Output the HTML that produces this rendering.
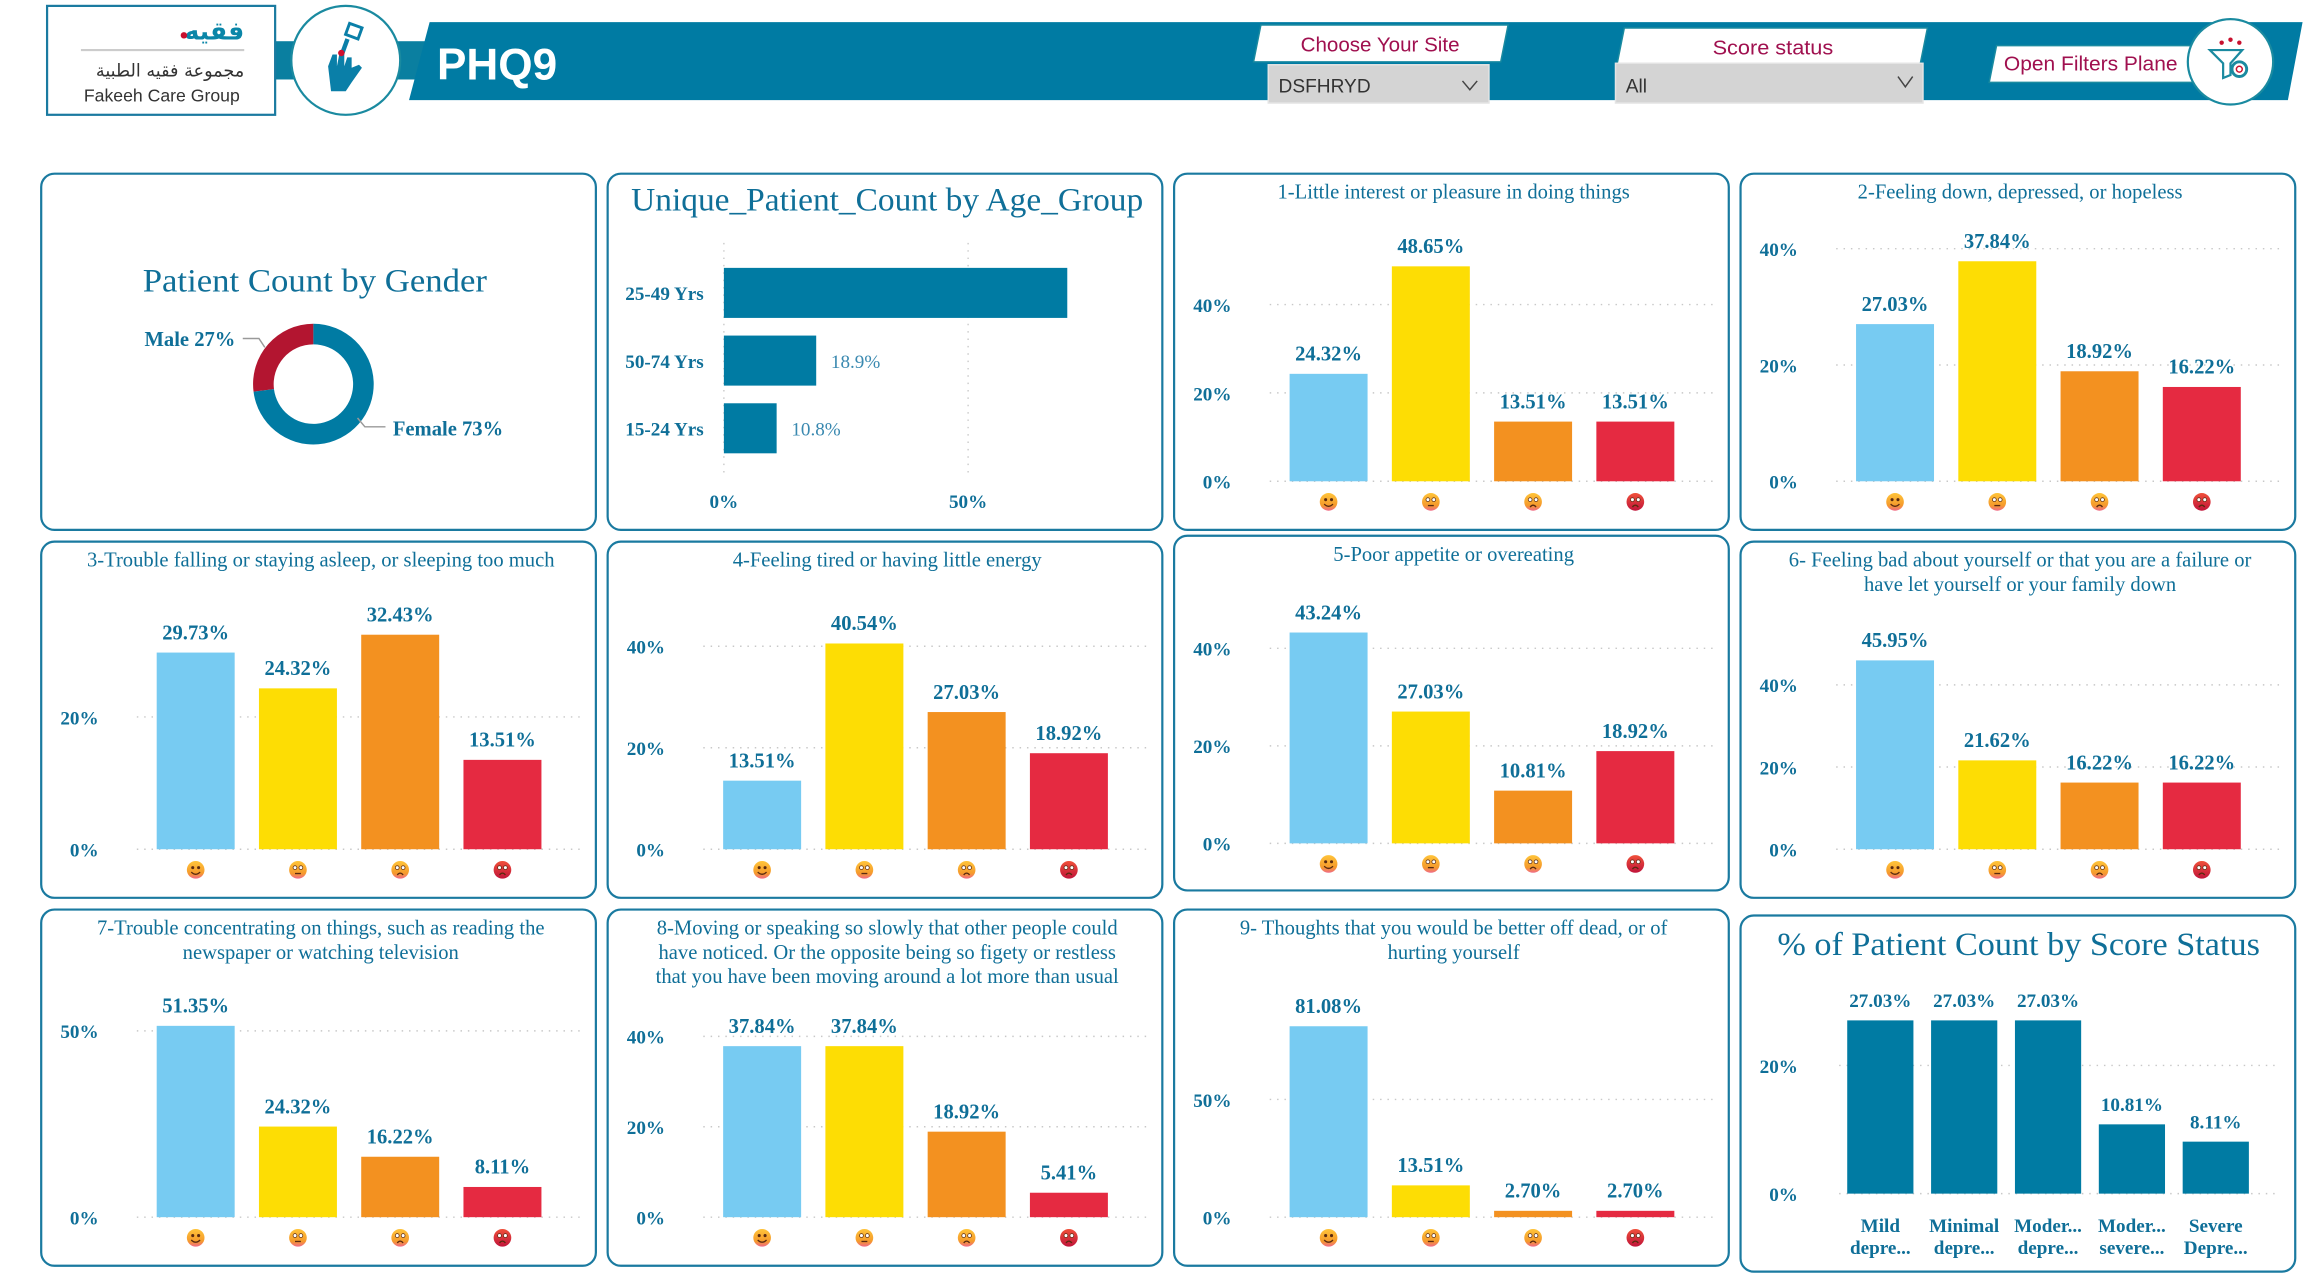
<!DOCTYPE html>
<html><head><meta charset="utf-8">
<style>
html,body{margin:0;padding:0;background:#fff;overflow:hidden}
svg{display:block}
text{font-family:"Liberation Serif",serif}
.sans{font-family:"Liberation Sans",sans-serif}
</style></head>
<body>
<svg id="root" width="2307" height="1279" viewBox="0 0 1568 869" preserveAspectRatio="none" xmlns="http://www.w3.org/2000/svg">
<defs>
<linearGradient id="eg" x1="0" y1="0" x2="0" y2="1"><stop offset="0" stop-color="#ffc43a"/><stop offset="0.7" stop-color="#f59a2c"/><stop offset="1" stop-color="#f06a8a"/></linearGradient>
<linearGradient id="er" x1="0" y1="0" x2="0" y2="1"><stop offset="0" stop-color="#f0503a"/><stop offset="1" stop-color="#c0143a"/></linearGradient>
</defs>
<g>
<rect x="185" y="28" width="110" height="26" fill="#0a7fa0"/>
<polygon points="292,15 1565,15 1555,68 278,68" fill="#007ba3"/>
<rect x="32" y="4" width="155" height="74" fill="#fff" stroke="#1a7aa0" stroke-width="1.5"/>
<text x="166" y="27" text-anchor="end" font-size="17" font-weight="bold" fill="#0a86a8" style="font-family:'DejaVu Sans',sans-serif">فقيه</text>
<circle cx="125" cy="24" r="2.2" fill="#c8102e"/>
<line x1="55" y1="34" x2="166" y2="34" stroke="#ccc" stroke-width="1.5"/>
<text x="166" y="52" text-anchor="end" font-size="12" fill="#333" style="font-family:'DejaVu Sans',sans-serif">مجموعة فقيه الطبية</text>
<text class="sans" x="110" y="69" text-anchor="middle" font-size="12" fill="#333">Fakeeh Care Group</text>
<circle cx="235" cy="41" r="37" fill="#fff" stroke="#1a8aa0" stroke-width="1.5"/>
<g fill="#0a7fa8">
<path d="M223,45 l3,-8 l3,0 l0,8 l2,-10 l3,0 l0,10 l2,-6 l3,0 l0,7 l5,-2 l2,2 l-7,10 l-4,6 l-10,0 z"/>
<rect x="233" y="26" width="3" height="11" transform="rotate(20 234 31)"/>
<rect x="236" y="17" width="9" height="8" transform="rotate(20 240 21)" fill="none" stroke="#0a7fa8" stroke-width="2"/>
<circle cx="232" cy="36" r="2.2" fill="#d0102e"/>
</g>
<text class="sans" x="297" y="54" font-size="30" font-weight="bold" fill="#fff">PHQ9</text>
<polygon points="857,17 1025,17 1020,42 852,42" fill="#fff" stroke="#1a8aa0" stroke-width="1"/>
<text class="sans" x="938" y="35" text-anchor="middle" font-size="14" fill="#a0104f" textLength="108" lengthAdjust="spacingAndGlyphs">Choose Your Site</text>
<g>
<rect x="862" y="44" width="150" height="26" fill="#d4d4d4" stroke="#e4e4e4"/>
<text class="sans" x="869" y="63" font-size="13" fill="#333">DSFHRYD</text>
<polyline points="994,55 999,61 1004,55" fill="none" stroke="#444" stroke-width="1"/>
</g>
<polygon points="1104,19 1310,19 1305,44 1099,44" fill="#fff" stroke="#1a8aa0" stroke-width="1"/>
<text class="sans" x="1205" y="37" text-anchor="middle" font-size="14" fill="#a0104f" textLength="82" lengthAdjust="spacingAndGlyphs">Score status</text>
<g>
<rect x="1098" y="43" width="209" height="27" fill="#d4d4d4" stroke="#e4e4e4"/>
<text class="sans" x="1105" y="63" font-size="13" fill="#333">All</text>
<polyline points="1290,52 1295,59 1300,52" fill="none" stroke="#444" stroke-width="1"/>
</g>
<g>
<polygon points="1357,31 1493,31 1490,56 1352,56" fill="#fff" stroke="#1a8aa0" stroke-width="1"/>
<text class="sans" x="1421" y="48" text-anchor="middle" font-size="14" fill="#a0104f" textLength="118" lengthAdjust="spacingAndGlyphs">Open Filters Plane</text>
<circle cx="1516" cy="42" r="29" fill="#fff" stroke="#1a8aa0" stroke-width="1.5"/>
<path d="M1502,34 h22 l-8,9 v8 l-5,2 v-10 z" fill="none" stroke="#1a8aa0" stroke-width="1.5"/>
<circle cx="1522" cy="47" r="5" fill="none" stroke="#1a8aa0" stroke-width="2"/>
<circle cx="1522" cy="47" r="2" fill="none" stroke="#c8102e" stroke-width="1"/>
<circle cx="1510" cy="29" r="1.5" fill="#c8102e"/><circle cx="1516" cy="27" r="1.5" fill="#c8102e"/><circle cx="1522" cy="29" r="1.5" fill="#c8102e"/>
</g>
</g>
<g id="charts"></g>
</svg>
<script>
const genderLabels = ["Male", "Female"];
const genderValues = [27, 73];
const ageCategories = ["25-49 Yrs", "50-74 Yrs", "15-24 Yrs"];
const ageValues = [70.3, 18.9, 10.8];
const ageTicks = [0, 50];
const q1Values = [24.32, 48.65, 13.51, 13.51];
const q2Values = [27.03, 37.84, 18.92, 16.22];
const q3Values = [29.73, 24.32, 32.43, 13.51];
const q4Values = [13.51, 40.54, 27.03, 18.92];
const q5Values = [43.24, 27.03, 10.81, 18.92];
const q6Values = [45.95, 21.62, 16.22, 16.22];
const q7Values = [51.35, 24.32, 16.22, 8.11];
const q8Values = [37.84, 37.84, 18.92, 5.41];
const q9Values = [81.08, 13.51, 2.70, 2.70];
const q1Ticks = [0, 20, 40], q2Ticks = [0, 20, 40], q3Ticks = [0, 20], q4Ticks = [0, 20, 40], q5Ticks = [0, 20, 40];
const q6Ticks = [0, 20, 40], q7Ticks = [0, 50], q8Ticks = [0, 20, 40], q9Ticks = [0, 50];
const qAxisMax = [53.3, 40.5, 35.6, 46.4, 48.3, 57.3, 63.2, 52.1, 100];
const scoreCategories = [["Mild", "depre..."], ["Minimal", "depre..."], ["Moder...", "depre..."], ["Moder...", "severe..."], ["Severe", "Depre..."]];
const scoreValues = [27.03, 27.03, 27.03, 10.81, 8.11];
const scoreTicks = [0, 20];
const scoreAxisMax = 31;

const NS = "http://www.w3.org/2000/svg";
const root = document.getElementById('charts');
const TEAL = "#0f6f98", BAR = "#007ba3";
function mk(tag, attrs, parent, txt) {
  const e = document.createElementNS(NS, tag);
  for (const k in attrs) e.setAttribute(k, attrs[k]);
  if (txt !== undefined) e.textContent = txt;
  (parent || root).appendChild(e);
  return e;
}
function panel(x, y, w, h, name) {
  const g = mk('g', {});
  
  
  mk('rect', {x: x, y: y, width: w, height: h, rx: 9, fill: '#fff', stroke: '#1a7aa0', 'stroke-width': 1.5}, g);
  return g;
}
function title(g, cx, y, lines, size, widths) {
  lines.forEach((l, i) => {
    const a = {x: cx, y: y + i * 16.5, 'text-anchor': 'middle', 'font-size': size, fill: TEAL};
    if (widths) { a.textLength = widths[i]; a.lengthAdjust = 'spacingAndGlyphs'; }
    const t = mk('text', a, g, l);
    
    
  });
}
function emoji(g, cx, cy, kind) {
  const e = mk('g', {}, g);
  
  
  mk('circle', {cx: cx, cy: cy, r: 6, fill: kind === 3 ? 'url(#er)' : 'url(#eg)'}, e);
  mk('circle', {cx: cx - 2, cy: cy - 1.5, r: kind === 0 ? 0.8 : 1.3, fill: kind === 0 ? '#5a2a10' : '#fff', stroke: '#5a2a10', 'stroke-width': 0.5}, e);
  mk('circle', {cx: cx + 2, cy: cy - 1.5, r: kind === 0 ? 0.8 : 1.3, fill: kind === 0 ? '#5a2a10' : '#fff', stroke: '#5a2a10', 'stroke-width': 0.5}, e);
  let d = kind === 0 ? `M${cx-3},${cy+1.5} Q${cx},${cy+4.5} ${cx+3},${cy+1.5}` : kind === 1 ? `M${cx-2},${cy+2.5} H${cx+2}` : `M${cx-2},${cy+3.5} Q${cx},${cy+1} ${cx+2},${cy+3.5}`;
  mk('path', {d: d, fill: 'none', stroke: '#5a2a10', 'stroke-width': 0.9}, e);
}

(function () {
  const g = panel(28, 118, 377, 242, 'gender-donut-panel');
  title(g, 214, 198, ['Patient Count by Gender'], 22, [234]);
  const cx = 213, cy = 261, R = 41, r = 27;
  const total = genderValues.reduce((a, b) => a + b, 0);
  const colors = ['#b31530', BAR];
  let a0 = 0;
  genderValues.forEach((v, i) => {
    const sweep = v / total * 2 * Math.PI;
    const s = -a0, e = -(a0 + sweep);
    const p = (ang, rad) => [cx + rad * Math.sin(ang), cy - rad * Math.cos(ang)];
    const [x1, y1] = p(s, R), [x2, y2] = p(e, R), [x3, y3] = p(e, r), [x4, y4] = p(s, r);
    const large = sweep > Math.PI ? 1 : 0;
    const path = mk('path', {d: `M${x1},${y1} A${R},${R} 0 ${large} 0 ${x2},${y2} L${x3},${y3} A${r},${r} 0 ${large} 1 ${x4},${y4} Z`, fill: colors[i]}, g);
    
    
    a0 += sweep;
  });
  mk('polyline', {points: '165,230 176,230 180,236', fill: 'none', stroke: '#999', 'stroke-width': 1}, g);
  mk('polyline', {points: '243,284 248,290 262,290', fill: 'none', stroke: '#999', 'stroke-width': 1}, g);
  const l1 = mk('text', {x: 160, y: 235, 'text-anchor': 'end', 'font-size': 14, 'font-weight': 'bold', fill: TEAL}, g, genderLabels[0] + ' ' + genderValues[0] + '%');
   
  const l2 = mk('text', {x: 267, y: 296, 'font-size': 14, 'font-weight': 'bold', fill: TEAL}, g, genderLabels[1] + ' ' + genderValues[1] + '%');
   
})();

(function () {
  const g = panel(413, 118, 377, 242, 'age-group-panel');
  title(g, 603, 143, ['Unique_Patient_Count by Age_Group'], 22, [348]);
  const x0 = 492, pxPer = 166 / 50;
  const xs = v => x0 + v * pxPer;
  ageTicks.forEach(t => {
    mk('line', {x1: xs(t), y1: 165, x2: xs(t), y2: 325, stroke: '#ccc', 'stroke-dasharray': '1,4'}, g);
    const tl = mk('text', {x: xs(t), y: 345, 'text-anchor': 'middle', 'font-size': 13, 'font-weight': 'bold', fill: TEAL}, g, t + '%');
     
  });
  ageCategories.forEach((c, i) => {
    const y = 182 + i * 46;
    const lab = mk('text', {x: 425, y: y + 22, 'font-size': 13, 'font-weight': 'bold', fill: TEAL}, g, c);
     
    const b = mk('rect', {x: x0, y: y, width: xs(ageValues[i]) - x0, height: 34, fill: BAR}, g);
     
    if (i > 0) {
      const vl = mk('text', {x: xs(ageValues[i]) + 10, y: y + 22, 'font-size': 13, fill: '#3a89b0'}, g, ageValues[i] + '%');
       
    }
  });
})();

const qColors = ['#77cbf2', '#fddd04', '#f39120', '#e52a41'];
const qPanels = [
  {x: 798, y: 118, vals: q1Values, ticks: q1Ticks, t: ['1-Little interest or pleasure in doing things']},
  {x: 1183, y: 118, vals: q2Values, ticks: q2Ticks, t: ['2-Feeling down, depressed, or hopeless']},
  {x: 28, y: 368, vals: q3Values, ticks: q3Ticks, t: ['3-Trouble falling or staying asleep, or sleeping too much']},
  {x: 413, y: 368, vals: q4Values, ticks: q4Ticks, t: ['4-Feeling tired or having little energy']},
  {x: 798, y: 364, vals: q5Values, ticks: q5Ticks, t: ['5-Poor appetite or overeating']},
  {x: 1183, y: 368, vals: q6Values, ticks: q6Ticks, t: ['6- Feeling bad about yourself or that you are a failure or', 'have let yourself or your family down']},
  {x: 28, y: 618, vals: q7Values, ticks: q7Ticks, t: ['7-Trouble concentrating on things, such as reading the', 'newspaper or watching television']},
  {x: 413, y: 618, vals: q8Values, ticks: q8Ticks, t: ['8-Moving or speaking so slowly that other people could', 'have noticed. Or the opposite being so figety or restless', 'that you have been moving around a lot more than usual']},
  {x: 798, y: 618, vals: q9Values, ticks: q9Ticks, t: ['9- Thoughts that you would be better off dead, or of', 'hurting yourself']}
];
qPanels.forEach((p, idx) => {
  const h = (idx === 4) ? 241 : 242;
  const g = panel(p.x, p.y, 377, h, 'question-' + (idx + 1) + '-panel');
  title(g, p.x + 190, p.y + 17, p.t, 14, null);
  const zero = p.y + 209, plotH = 160;
  const ys = v => zero - v / qAxisMax[idx] * plotH;
  p.ticks.forEach(t => {
    mk('line', {x1: p.x + 65, y1: ys(t), x2: p.x + 367, y2: ys(t), stroke: '#c8c8c8', 'stroke-dasharray': '1,4'}, g);
    const tl = mk('text', {x: p.x + 39, y: ys(t) + 5, 'text-anchor': 'end', 'font-size': 13, 'font-weight': 'bold', fill: TEAL}, g, t + '%');
     
  });
  p.vals.forEach((v, i) => {
    const cx = p.x + 105 + i * 69.5;
    const b = mk('rect', {x: cx - 26.5, y: ys(v), width: 53, height: zero - ys(v), fill: qColors[i]}, g);
     
    const vl = mk('text', {x: cx, y: ys(v) - 9, 'text-anchor': 'middle', 'font-size': 14, 'font-weight': 'bold', fill: TEAL}, g, v.toFixed(2) + '%');
     
    emoji(g, cx, zero + 14, i);
  });
});

(function () {
  const g = panel(1183, 622, 377, 242, 'score-status-panel');
  title(g, 1372, 649, ['% of Patient Count by Score Status'], 22, [328]);
  const zero = 811, plotH = 135;
  const ys = v => zero - v / scoreAxisMax * plotH;
  scoreTicks.forEach(t => {
    mk('line', {x1: 1250, y1: ys(t), x2: 1550, y2: ys(t), stroke: '#c8c8c8', 'stroke-dasharray': '1,4'}, g);
    const tl = mk('text', {x: 1222, y: ys(t) + 5, 'text-anchor': 'end', 'font-size': 13, 'font-weight': 'bold', fill: TEAL}, g, t + '%');
     
  });
  scoreValues.forEach((v, i) => {
    const cx = 1278 + i * 57;
    const b = mk('rect', {x: cx - 22.5, y: ys(v), width: 45, height: zero - ys(v), fill: BAR}, g);
     
    const vl = mk('text', {x: cx, y: ys(v) - 9, 'text-anchor': 'middle', 'font-size': 13, 'font-weight': 'bold', fill: TEAL}, g, v.toFixed(2) + '%');
     
    scoreCategories[i].forEach((s, j) => {
      const cl = mk('text', {x: cx, y: 837 + j * 15, 'text-anchor': 'middle', 'font-size': 13, 'font-weight': 'bold', fill: TEAL}, g, s);
       
    });
  });
})();
</script>
</body></html>
